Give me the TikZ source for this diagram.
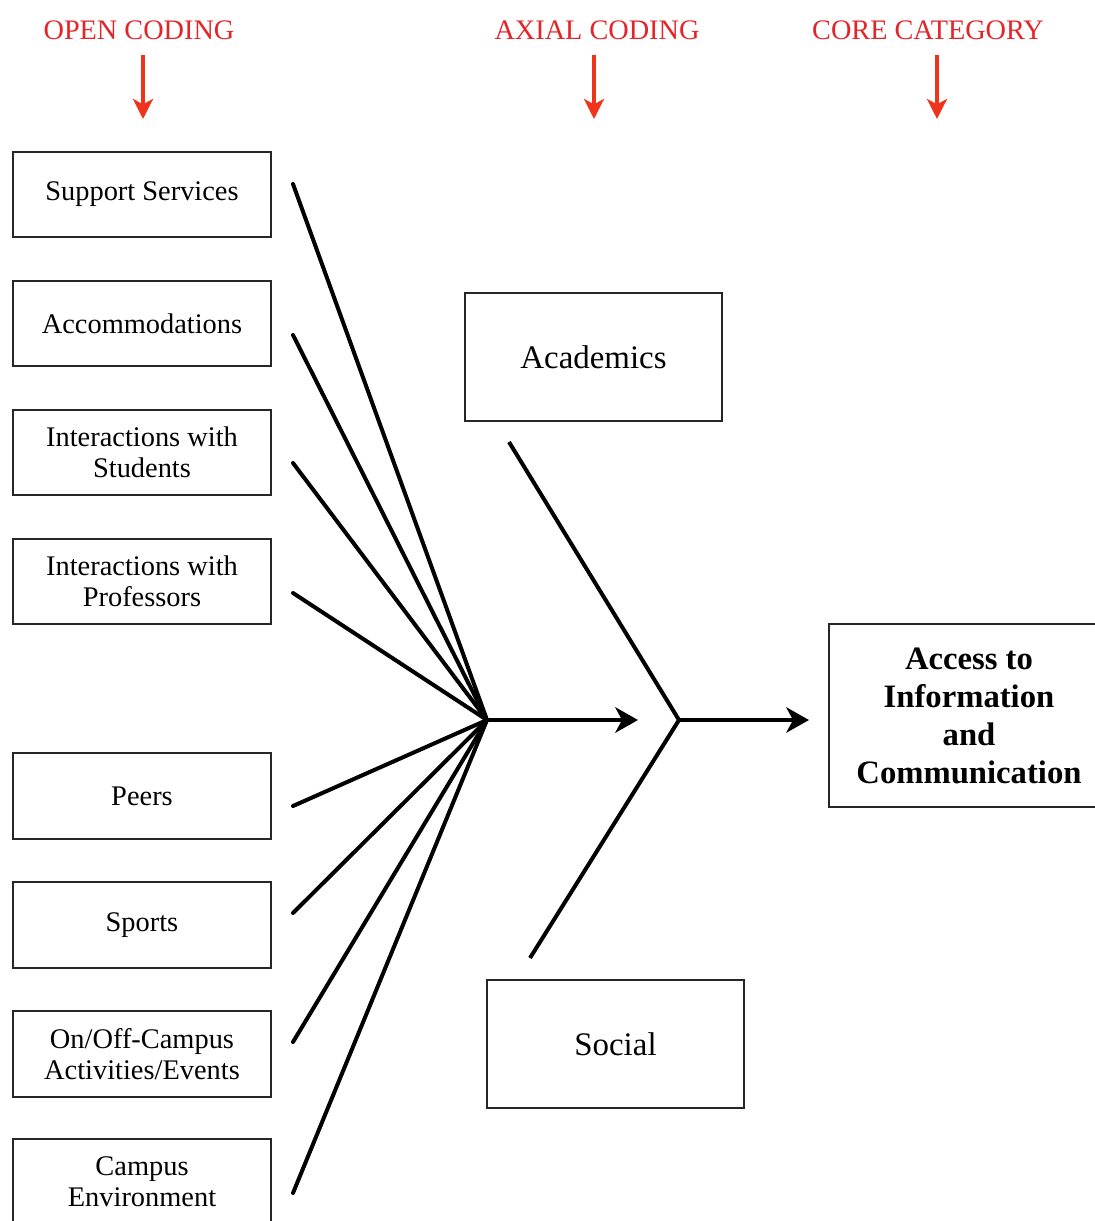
\documentclass[tikz,border=0pt]{standalone}
\usepackage{fontspec}
\setmainfont{Liberation Serif}
\usetikzlibrary{arrows.meta}
\definecolor{hdred}{RGB}{228,36,40}
\definecolor{arred}{RGB}{240,52,28}
\begin{document}
\begin{tikzpicture}[x=0.75pt,y=-0.75pt,
  box/.style={draw=black!85,line width=1.4pt,fill=white,minimum width=193.5pt,minimum height=64pt,inner sep=0pt,align=center,font=\fontsize{21.3}{23.5}\selectfont},
  bigbox/.style={draw=black!85,line width=1.4pt,fill=white,minimum width=192.75pt,minimum height=96pt,inner sep=0pt,align=center,font=\fontsize{24.7}{28}\selectfont},
  corebox/.style={draw=black!85,line width=1.4pt,fill=white,minimum width=210pt,minimum height=137pt,inner sep=0pt,align=center,font=\fontsize{24.5}{28.5}\selectfont\bfseries},
  header/.style={text=hdred,inner sep=0pt,font=\fontsize{21.2}{24}\selectfont},
  redarrow/.style={draw=arred,line width=3pt,-{Stealth[length=15pt,width=15pt,inset=4pt]}},
  fan/.style={draw=black,line width=3pt},
  bigarrow/.style={draw=black,line width=3pt,-{Stealth[length=17pt,width=19pt,inset=5pt]}}
]
\useasboundingbox (0,0) rectangle (1095,1221);
\clip (0,0) rectangle (1095,1221);

% headers
\node[header] (h1) at (139,30) {OPEN CODING};
\node[header] (h2) at (597,30) {AXIAL CODING};
\node[header] (h3) at (928,30) {CORE CATEGORY};
\coordinate (r1s) at (143,55);  \coordinate (r1e) at (143,119);
\coordinate (r2s) at (594,55);  \coordinate (r2e) at (594,119);
\coordinate (r3s) at (937,55);  \coordinate (r3e) at (937,119);
\draw[redarrow] (r1s) -- (r1e);
\draw[redarrow] (r2s) -- (r2e);
\draw[redarrow] (r3s) -- (r3e);

% open coding boxes
\node[box] (b1) at (142,194.5) {Support Services};
\node[box] (b2) at (142,323.5) {Accommodations};
\node[box] (b3) at (142,452.5) {Interactions with\\Students};
\node[box] (b4) at (142,581.5) {Interactions with\\Professors};
\node[box] (b5) at (142,796) {Peers};
\node[box] (b6) at (142,925) {Sports};
\node[box] (b7) at (142,1054) {On/Off-Campus\\Activities/Events};
\node[box] (b8) at (142,1182) {Campus\\Environment};

% axial boxes
\node[bigbox] (ac) at (593.5,357) {Academics};
\node[bigbox] (so) at (615.5,1044) {Social};

% core
\node[corebox] (core) at (969,715.5) {Access to\\Information\\and\\Communication};

% fan
\coordinate (f) at (487,720);
\coordinate (l1) at (293,184);
\coordinate (l2) at (293,335);
\coordinate (l3) at (293,463);
\coordinate (l4) at (293,593);
\coordinate (l5) at (293,806);
\coordinate (l6) at (293,913);
\coordinate (l7) at (293,1042);
\coordinate (l8) at (293,1193);
\foreach \i in {1,...,8} {\draw[fan,line cap=round] (l\i) -- (f);}
\coordinate (fa) at (638,720);
\draw[bigarrow] (f) -- (fa);

% axial fork
\coordinate (j) at (679,720);
\coordinate (ja) at (509,442);
\coordinate (js) at (530,958);
\draw[fan,line join=miter] (ja) -- (j) -- (js);
\coordinate (ca) at (809,720);
\draw[bigarrow] (j) -- (ca);
\end{tikzpicture}
\end{document}
